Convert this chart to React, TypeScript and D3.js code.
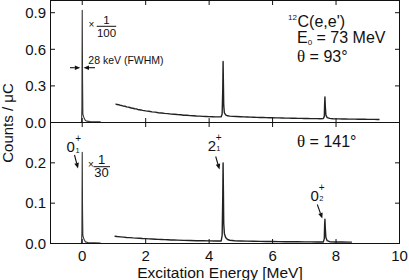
import * as d3 from 'd3';
import React from 'react';

// spectra: [excitation energy (MeV), counts / uC]
const topElastic: [number, number][] = [
  [-0.05, 0], [-0.02, 0.004], [-0.01, 0.12], [0, 0.92], [0.01, 0.35], [0.02, 0.07],
  [0.04, 0.05], [0.07, 0.03], [0.1, 0.016], [0.15, 0.011], [0.25, 0.008], [0.4, 0.006], [0.58, 0.005],
];

const topContinuum: [number, number][] = [
  [1.05, 0.152], [1.1, 0.147], [1.15, 0.146], [1.2, 0.14], [1.25, 0.139], [1.3, 0.134], [1.35, 0.133],
  [1.4, 0.128], [1.45, 0.126], [1.5, 0.123], [1.55, 0.119], [1.6, 0.117], [1.65, 0.113], [1.7, 0.112],
  [1.75, 0.107], [1.8, 0.105], [1.85, 0.103], [1.9, 0.099], [2.0, 0.095], [2.1, 0.092], [2.2, 0.087],
  [2.3, 0.085], [2.4, 0.08], [2.5, 0.078], [2.6, 0.075], [2.7, 0.073], [2.8, 0.069], [2.9, 0.068],
  [3.0, 0.065], [3.1, 0.063], [3.2, 0.06], [3.3, 0.059], [3.4, 0.056], [3.5, 0.055], [3.6, 0.053],
  [3.7, 0.052], [3.8, 0.05], [3.9, 0.049], [4.0, 0.048], [4.1, 0.047], [4.2, 0.046], [4.3, 0.046],
  [4.38, 0.047], [4.41, 0.07], [4.43, 0.28], [4.44, 0.5], [4.45, 0.32], [4.46, 0.14], [4.48, 0.08],
  [4.52, 0.062], [4.58, 0.055], [4.65, 0.052], [4.75, 0.05], [4.85, 0.049], [5.0, 0.047], [5.1, 0.046],
  [5.2, 0.045], [5.3, 0.044], [5.4, 0.043], [5.5, 0.042], [5.6, 0.041], [5.7, 0.041], [5.8, 0.04],
  [5.9, 0.039], [6.0, 0.039], [6.1, 0.038], [6.2, 0.038], [6.3, 0.037], [6.4, 0.036], [6.5, 0.036],
  [6.6, 0.035], [6.7, 0.035], [6.8, 0.034], [6.9, 0.034], [7.0, 0.033], [7.1, 0.033], [7.2, 0.032],
  [7.3, 0.032], [7.4, 0.032], [7.5, 0.031], [7.6, 0.032], [7.63, 0.05], [7.64, 0.15], [7.65, 0.21],
  [7.66, 0.14], [7.68, 0.06], [7.72, 0.04], [7.8, 0.034], [7.9, 0.031], [8.0, 0.03], [8.1, 0.03],
  [8.2, 0.029], [8.3, 0.029], [8.4, 0.028], [8.5, 0.028], [8.6, 0.028], [8.7, 0.027], [8.8, 0.027],
  [8.9, 0.027], [9.0, 0.026], [9.1, 0.026], [9.2, 0.026], [9.3, 0.025], [9.37, 0.025],
];

const bottomElastic: [number, number][] = [
  [-0.05, 0], [-0.02, 0.001], [-0.01, 0.03], [0, 0.226], [0.01, 0.08], [0.02, 0.02],
  [0.04, 0.014], [0.07, 0.008], [0.1, 0.004], [0.2, 0.002], [0.4, 0.0015], [0.58, 0.001],
];

const bottomContinuum: [number, number][] = [
  [1.02, 0.018], [1.1, 0.0172], [1.2, 0.0165], [1.3, 0.0158], [1.4, 0.015], [1.5, 0.0146], [1.6, 0.0139],
  [1.7, 0.0134], [1.8, 0.013], [1.9, 0.0124], [2.0, 0.012], [2.1, 0.0115], [2.2, 0.011], [2.3, 0.0106],
  [2.4, 0.0102], [2.5, 0.0098], [2.6, 0.0095], [2.7, 0.0092], [2.8, 0.0088], [2.9, 0.0086], [3.0, 0.0083],
  [3.2, 0.0078], [3.4, 0.0074], [3.6, 0.007], [3.8, 0.0067], [4.0, 0.0064], [4.2, 0.0062], [4.38, 0.0062],
  [4.41, 0.02], [4.43, 0.12], [4.44, 0.2], [4.45, 0.13], [4.46, 0.05], [4.48, 0.025], [4.52, 0.015],
  [4.58, 0.01], [4.65, 0.008], [4.8, 0.0068], [5.0, 0.0062], [5.2, 0.0058], [5.4, 0.0055], [5.6, 0.0053],
  [5.8, 0.005], [6.0, 0.0048], [6.2, 0.0046], [6.4, 0.0045], [6.6, 0.0043], [6.8, 0.0042], [7.0, 0.0041],
  [7.2, 0.004], [7.4, 0.0039], [7.6, 0.0039], [7.63, 0.012], [7.64, 0.045], [7.65, 0.06], [7.66, 0.04],
  [7.68, 0.015], [7.72, 0.007], [7.8, 0.0045], [8.0, 0.0038], [8.2, 0.0036], [8.4, 0.0034], [8.5, 0.0033],
];

const xTicks = [0, 2, 4, 6, 8, 10];
const topYTicks = [0.0, 0.3, 0.6, 0.9];
const bottomYTicks = [0.0, 0.1, 0.2];

const W = 409;
const H = 280;
const LEFT = 50.5;
const RIGHT = 399.5;
const TOP = 0.5;
const MID = 122.5;
const BOTTOM = 243.5;
const FONT = '"Liberation Sans", Arial, sans-serif';
const SERIF = '"Liberation Serif", "Times New Roman", serif';
const TICK = 4.5;

function Arrow({ x1, y1, x2, y2 }: { x1: number; y1: number; x2: number; y2: number }) {
  const a = Math.atan2(y2 - y1, x2 - x1);
  const len = 5.5;
  const wid = 2.3;
  const bx = x2 - len * Math.cos(a);
  const by = y2 - len * Math.sin(a);
  const px = -Math.sin(a) * wid;
  const py = Math.cos(a) * wid;
  return (
    <g>
      <line x1={x1} y1={y1} x2={bx} y2={by} stroke="#111" strokeWidth={1.1} />
      <path d={`M${x2},${y2}L${bx + px},${by + py}L${bx - px},${by - py}Z`} fill="#111" />
    </g>
  );
}

export default function App() {
  const x = d3.scaleLinear().domain([-1, 10]).range([LEFT, RIGHT]);
  const yTop = d3.scaleLinear().domain([0, 1]).range([MID, TOP]);
  const yBot = d3.scaleLinear().domain([0, 0.3]).range([BOTTOM, MID]);

  const lineTop = d3.line<[number, number]>().x(d => x(d[0])).y(d => yTop(d[1]));
  const lineBot = d3.line<[number, number]>().x(d => x(d[0])).y(d => yBot(d[1]));

  const xTickMarks = (yEdge: number, dir: number, key: string) =>
    xTicks.map(t => (
      <line key={key + t} x1={x(t)} x2={x(t)} y1={yEdge} y2={yEdge + dir * TICK} stroke="#111" strokeWidth={1} />
    ));

  const yTickMarks = (ticks: number[], scale: d3.ScaleLinear<number, number>, key: string) =>
    ticks.map(t => (
      <g key={key + t}>
        <line x1={LEFT} x2={LEFT + TICK} y1={scale(t)} y2={scale(t)} stroke="#111" />
        <line x1={RIGHT} x2={RIGHT - TICK} y1={scale(t)} y2={scale(t)} stroke="#111" />
      </g>
    ));

  return (
    <svg width={W} height={H} style={{ position: 'absolute', left: 0, top: 0, background: '#fff' }} fontFamily={FONT}>
      <defs>
        <clipPath id="clipTop">
          <rect x={LEFT} y={TOP} width={RIGHT - LEFT} height={MID - TOP} />
        </clipPath>
        <clipPath id="clipBot">
          <rect x={LEFT} y={MID} width={RIGHT - LEFT} height={BOTTOM - MID} />
        </clipPath>
      </defs>

      {/* spectra */}
      <g clipPath="url(#clipTop)" fill="none" strokeLinejoin="round">
        <path d={lineTop(topElastic) ?? ''} stroke="#333" strokeWidth={1.1} />
        <path d={lineTop(topContinuum) ?? ''} stroke="#222" strokeWidth={1.4} />
      </g>
      <g clipPath="url(#clipBot)" fill="none" strokeLinejoin="round">
        <path d={lineBot(bottomElastic) ?? ''} stroke="#333" strokeWidth={1.1} />
        <path d={lineBot(bottomContinuum) ?? ''} stroke="#222" strokeWidth={1.4} />
      </g>

      {/* frames */}
      <rect x={LEFT} y={TOP} width={RIGHT - LEFT} height={BOTTOM - TOP} fill="none" stroke="#111" strokeWidth={1} />
      <line x1={LEFT} x2={RIGHT} y1={MID} y2={MID} stroke="#111" strokeWidth={1} />

      {/* ticks */}
      {xTickMarks(TOP, 1, 'tt')}
      {xTickMarks(MID, -1, 'tb')}
      {xTickMarks(MID, 1, 'bt')}
      {xTickMarks(BOTTOM, -1, 'bb')}
      {yTickMarks(topYTicks.filter(t => t > 0), yTop, 'yt')}
      {yTickMarks(bottomYTicks.filter(t => t > 0), yBot, 'yb')}

      {/* tick labels */}
      <g fontSize={15} fill="#111">
        {topYTicks.map(t => (
          <text key={'lt' + t} x={46} y={yTop(t) + 5.3} textAnchor="end">
            {t.toFixed(1)}
          </text>
        ))}
        {bottomYTicks.map(t => (
          <text key={'lb' + t} x={46} y={yBot(t) + 5.3} textAnchor="end">
            {t.toFixed(1)}
          </text>
        ))}
        {xTicks.map(t => (
          <text key={'lx' + t} x={x(t)} y={261} textAnchor="middle">
            {t}
          </text>
        ))}
      </g>

      {/* axis titles */}
      <text x={220} y={278} textAnchor="middle" fontSize={15.5} fill="#111">
        Excitation Energy [MeV]
      </text>
      <text transform="translate(12.5,123) rotate(-90)" textAnchor="middle" fontSize={15} fill="#111">
        Counts / μC
      </text>

      {/* top panel annotations */}
      <g fill="#111">
        <text x={91.3} y={28} textAnchor="middle" fontSize={10}>×</text>
        <text x={106.5} y={23.5} textAnchor="middle" fontSize={11.5}>1</text>
        <line x1={96.7} x2={116.2} y1={26.3} y2={26.3} stroke="#111" strokeWidth={1} />
        <text x={106.5} y={37} textAnchor="middle" fontSize={11.5}>100</text>

        <text x={88.3} y={63.5} fontSize={10.5}>28 keV (FWHM)</text>
        <Arrow x1={70} y1={67.7} x2={80.3} y2={67.7} />
        <Arrow x1={95} y1={67.7} x2={83.5} y2={67.7} />

        <text x={288} y={20} fontSize={8}>12</text>
        <text x={297.5} y={26.5} fontSize={16}>C(e,e')</text>
        <text x={297} y={42.5} fontSize={16}>
          E<tspan fontSize={8} dy={2}>0</tspan>
          <tspan dy={-2}> = 73 MeV</tspan>
        </text>
        <text x={297} y={61.5} fontSize={16}>
          <tspan fontFamily={SERIF} fontSize={17}>θ</tspan> = 93°
        </text>
      </g>

      {/* bottom panel annotations */}
      <g fill="#111">
        <text x={297} y={146.5} fontSize={16}>
          <tspan fontFamily={SERIF} fontSize={17}>θ</tspan> = 141°
        </text>

        <text x={66.5} y={151.5} fontSize={15}>0</text>
        <text x={75.2} y={141.5} fontSize={10}>+</text>
        <text x={75.5} y={152.5} fontSize={7.5}>1</text>
        <Arrow x1={74.5} y1={155} x2={78} y2={168.5} />

        <text x={90.8} y={167.5} textAnchor="middle" fontSize={10}>×</text>
        <text x={101.5} y={163.5} textAnchor="middle" fontSize={13}>1</text>
        <line x1={93.5} x2={110} y1={166.7} y2={166.7} stroke="#111" strokeWidth={1} />
        <text x={101.5} y={177} textAnchor="middle" fontSize={13}>30</text>

        <text x={207.8} y={150.7} fontSize={15}>2</text>
        <text x={215.8} y={140.5} fontSize={10}>+</text>
        <text x={216.3} y={151} fontSize={7.5}>1</text>
        <Arrow x1={215.7} y1={156.5} x2={219.5} y2={169.5} />

        <text x={310.5} y={200.7} fontSize={15}>0</text>
        <text x={318.8} y={190.7} fontSize={10}>+</text>
        <text x={319.2} y={201} fontSize={7.5}>2</text>
        <Arrow x1={317.3} y1={204.5} x2={322.3} y2={218.5} />
      </g>
    </svg>
  );
}
